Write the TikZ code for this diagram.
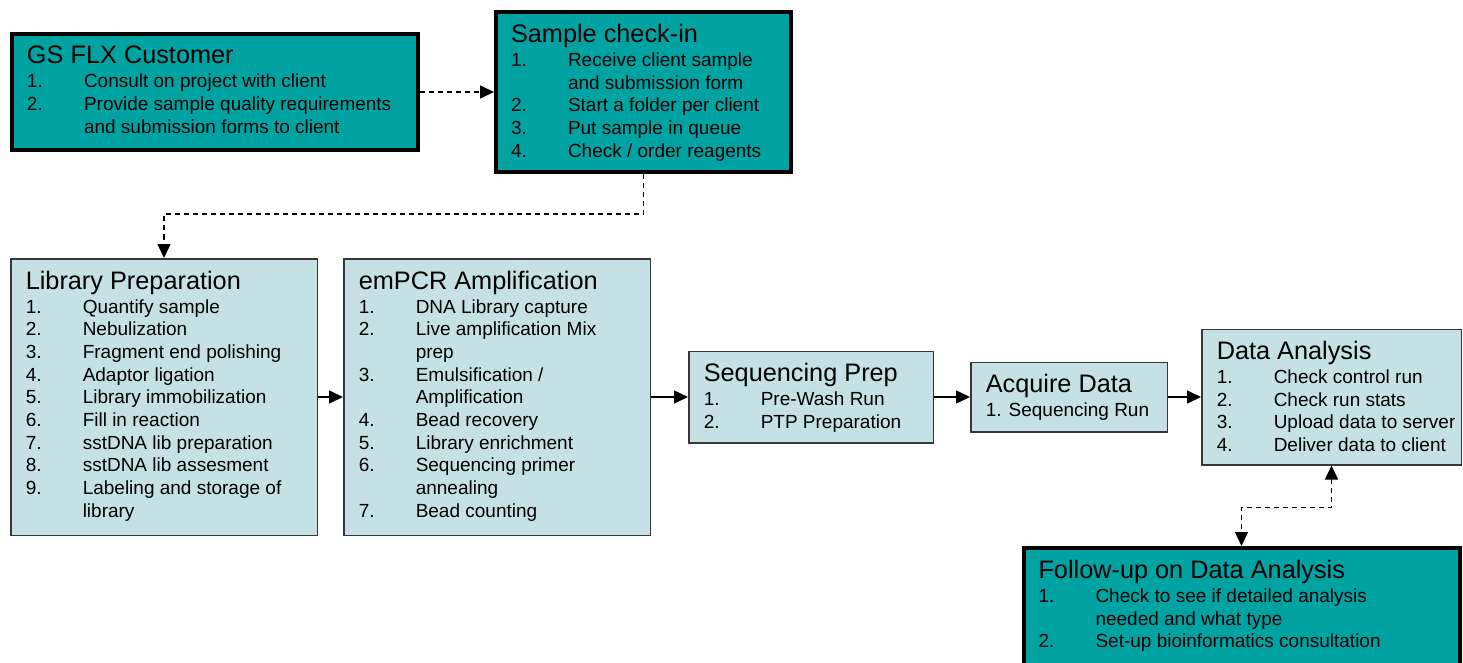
\documentclass[tikz,border=0pt]{standalone}
\usepackage{fontspec}
\setmainfont{Liberation Sans}
\usetikzlibrary{arrows.meta,positioning}

\definecolor{clientteal}{RGB}{0,162,162}
\definecolor{stageblue}{RGB}{198,225,229}
\definecolor{stageline}{RGB}{55,55,55}

\newcommand{\stagebox}[3]{\parbox[t][#2][t]{#1}{#3}}
\newcommand{\stagetitle}[1]{{\fontsize{25.3}{22.7}\selectfont #1\par}\vspace{1.3pt}}
\newcommand{\stepitem}[2]{\par\noindent\makebox[57pt][l]{#1}\mbox{#2}}
\newcommand{\stepmore}[1]{\par\noindent\hspace*{57pt}\mbox{#1}}

\tikzset{
  stage/.style = {rectangle, draw=stageline, fill=stageblue, line width=1.5pt,
    anchor=north west, inner xsep=15pt, inner ysep=12pt,
    font=\fontsize{19}{22.7}\selectfont},
  client/.style = {stage, draw=black, fill=clientteal, line width=4pt},
  link/.style = {line width=1.5pt},
  dashlink/.style = {link, dash pattern=on 5pt off 4pt}
}

\begin{document}
\begin{tikzpicture}[x=1pt, y=-1pt, >={Triangle[length=14pt,width=13pt]}]
  \useasboundingbox (0,0) rectangle (1463,663);
  \clip (0,0) rectangle (1463,663);

  % customer side
  \node [client] (gs) at (10,32) {\stagebox{376pt}{92pt}{%
    \stagetitle{GS FLX Customer}
    \stepitem{1.}{Consult on project with client}
    \stepitem{2.}{Provide sample quality requirements}
    \stepmore{and submission forms to client}}};
  \node [client, right=74pt of gs] (checkin) {\stagebox{265pt}{136pt}{%
    \stagetitle{Sample check-in}
    \stepitem{1.}{Receive client sample}
    \stepmore{and submission form}
    \stepitem{2.}{Start a folder per client}
    \stepitem{3.}{Put sample in queue}
    \stepitem{4.}{Check / order reagents}}};

  % lab pipeline
  \node [stage] (libprep) at (10,258) {\stagebox{276.5pt}{252.5pt}{%
    \stagetitle{Library Preparation}
    \stepitem{1.}{Quantify sample}
    \stepitem{2.}{Nebulization}
    \stepitem{3.}{Fragment end polishing}
    \stepitem{4.}{Adaptor ligation}
    \stepitem{5.}{Library immobilization}
    \stepitem{6.}{Fill in reaction}
    \stepitem{7.}{sstDNA lib preparation}
    \stepitem{8.}{sstDNA lib assesment}
    \stepitem{9.}{Labeling and storage of}
    \stepmore{library}}};
  \node [stage, right=25pt of libprep] (empcr) {\stagebox{276.5pt}{252.5pt}{%
    \stagetitle{emPCR Amplification}
    \stepitem{1.}{DNA Library capture}
    \stepitem{2.}{Live amplification Mix}
    \stepmore{prep}
    \stepitem{3.}{Emulsification /}
    \stepmore{Amplification}
    \stepitem{4.}{Bead recovery}
    \stepitem{5.}{Library enrichment}
    \stepitem{6.}{Sequencing primer}
    \stepmore{annealing}
    \stepitem{7.}{Bead counting}}};
  \node [stage, right=37pt of empcr] (seqprep) {\stagebox{214.5pt}{67.5pt}{%
    \stagetitle{Sequencing Prep}
    \stepitem{1.}{Pre-Wash Run}
    \stepitem{2.}{PTP Preparation}}};
  \node [stage, right=36pt of seqprep] (acquire) {\stagebox{166.5pt}{45.5pt}{%
    \stagetitle{Acquire Data}
    \par\noindent 1. Sequencing Run}};
  \node [stage, right=33pt of acquire] (analysis) {\stagebox{229.5pt}{111.5pt}{%
    \stagetitle{Data Analysis}
    \stepitem{1.}{Check control run}
    \stepitem{2.}{Check run stats}
    \stepitem{3.}{Upload data to server}
    \stepitem{4.}{Deliver data to client}}};
  \node [client] (followup) at (1021.5,546) {\stagebox{406pt}{122pt}{%
    \stagetitle{Follow-up on Data Analysis}
    \stepitem{1.}{Check to see if detailed analysis}
    \stepmore{needed and what type}
    \stepitem{2.}{Set-up bioinformatics consultation}}};

  % connectors
  \draw [dashlink, ->] (gs.east) -- (gs.east -| checkin.west);
  \draw [dashlink, ->] (checkin.south) -- ++(0,40) -| (libprep.north);
  \draw [link, ->] (libprep) -- (empcr);
  \draw [link, ->] (empcr) -- (seqprep);
  \draw [link, ->] (seqprep) -- (acquire);
  \draw [link, ->] (acquire) -- (analysis);
  \draw [dashlink, <->] (analysis.south) -- ++(0,42) -| (followup.north);
\end{tikzpicture}
\end{document}
